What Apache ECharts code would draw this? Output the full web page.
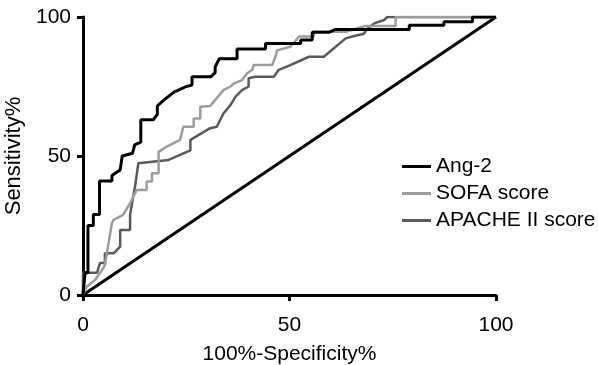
<!DOCTYPE html>
<html>
<head>
<meta charset="utf-8">
<script src="https://cdn.jsdelivr.net/npm/echarts@6/dist/echarts.min.js"></script>
<style>
  html, body { margin: 0; padding: 0; background: #fff; }
  #chart { width: 598px; height: 365px; }
</style>
</head>
<body>
<div id="chart"></div>
<script>
// ROC curves, [100%-Specificity%, Sensitivity%]
const seriesNames = ['Ang-2', 'SOFA score', 'APACHE II score'];
const seriesColors = ['#000000', '#9c9c9c', '#5a5a5a'];

const ang2 = [
    [0, 0], [0.5, 8], [1.2, 8], [1.2, 25], [2.5, 25], [2.5, 29], [4, 29], [4, 41],
    [7, 41], [7, 43], [9, 45], [9.5, 50], [12, 51], [12.5, 54], [14, 55], [14, 63],
    [17, 63], [18, 65], [18, 68], [19.5, 70], [22, 73], [23.5, 74], [25, 75], [26.4, 75.5],
    [26.4, 78.5], [31, 78.5], [32, 80], [32, 82], [33, 85], [37.3, 85], [37.3, 88.5],
    [44.2, 88.5], [44.2, 90.5], [52.7, 90.5], [52.7, 91.7], [55.5, 91.7], [55.5, 94.5],
    [59.5, 94.5], [61, 95.5], [79, 95.5], [79, 97], [87.4, 97], [87.4, 98.3], [94.3, 98.3],
    [94.3, 100], [100, 100]
];

const sofa = [
    [0, 0], [0.9, 3], [2.9, 5.4], [4.9, 9.6], [5.3, 10.8], [7, 25.8], [7.4, 27], [9.7, 28.8],
    [11.4, 33], [13, 37.8], [15.4, 37.8], [15.4, 40.8], [16.7, 40.8], [16.7, 43.8], [18.3, 43.8],
    [18.3, 51.5], [20.3, 53.4], [21.1, 54], [23.5, 55.8], [24.3, 60.5], [26.8, 60.5], [26.8, 63.5],
    [28.4, 63.5], [28.4, 67.7], [30.8, 68], [31.2, 68.3], [34, 73.7], [35.7, 75], [36.5, 76],
    [38.5, 77.3], [39.7, 79.7], [41, 81], [41.3, 82.7], [45.8, 82.7], [46.6, 85.7], [47, 88],
    [50.2, 89.3], [52.3, 93], [55.9, 93], [55.9, 94.7], [63.6, 94.7], [68.4, 96.8], [75.7, 96.8],
    [75.7, 100], [100, 100]
];

const apache = [
    [0, 0], [0, 8], [3.4, 8], [4.1, 11.5], [5.3, 11.5], [5.3, 15], [7.4, 15], [9, 17.4],
    [9, 23.4], [11.4, 23.4], [11.4, 29], [12.6, 39], [13.4, 47.4], [20.7, 48.6], [26, 52],
    [26, 55.8], [30.8, 60], [32.4, 60.5], [32.8, 60], [34, 65.3], [35.7, 68.3], [36.9, 71.3],
    [38.5, 73.7], [40.1, 75], [40.1, 78], [41.7, 78.5], [46.2, 78.5], [47.4, 81], [50.2, 82.7],
    [54.7, 85.7], [58.3, 85.7], [63.6, 92.3], [65.2, 93], [68, 94], [68.9, 95.9], [70.5, 97.7],
    [72.9, 98.9], [73.7, 100], [100, 100]
];

const chanceLine = [[0, 0], [100, 100]];

const xMin = 0, xMax = 100, xStep = 50;
const yMin = 0, yMax = 100, yStep = 50;

const chart = echarts.init(document.getElementById('chart'), null, {renderer: 'canvas'});

const font = '"Liberation Sans", Arial, Helvetica, sans-serif';

const axisCommon = {
    type: 'value',
    nameLocation: 'middle',
    nameTextStyle: {color: '#000', fontSize: 21, fontFamily: font},
    axisLine: {show: true, onZero: false, lineStyle: {color: '#000', width: 3}},
    axisTick: {show: true, inside: false, length: 6, lineStyle: {color: '#000', width: 3}},
    axisLabel: {color: '#000', fontSize: 21, fontFamily: font},
    splitLine: {show: false}
};

const curve = (name, data, color, width, z) => ({
    name: name,
    type: 'line',
    data: data,
    showSymbol: false,
    symbol: 'none',
    smooth: false,
    z: z,
    lineStyle: {color: color, width: width},
    itemStyle: {color: color},
    emphasis: {disabled: true}
});

const option = {
    animation: false,
    backgroundColor: '#fff',
    grid: {left: 83, right: 102, top: 17, bottom: 70, containLabel: false, outerBoundsMode: 'none'},
    xAxis: Object.assign({}, axisCommon, {
        min: xMin, max: xMax, interval: xStep,
        name: '100%-Specificity%',
        nameGap: 49,
        axisLabel: Object.assign({}, axisCommon.axisLabel, {margin: 20})
    }),
    yAxis: Object.assign({}, axisCommon, {
        min: yMin, max: yMax, interval: yStep,
        name: 'Sensitivity%',
        nameGap: 50,
        nameTextStyle: {color: '#000', fontSize: 22, fontFamily: font},
        axisLabel: Object.assign({}, axisCommon.axisLabel, {margin: 12})
    }),
    legend: {
        orient: 'vertical',
        left: 397,
        top: 151,
        itemWidth: 29,
        itemHeight: 3,
        itemGap: 6,
        icon: 'rect',
        data: seriesNames,
        textStyle: {color: '#000', fontSize: 21, fontFamily: font, padding: [0, 0, 0, 0]}
    },
    series: [
        {
            type: 'line',
            data: chanceLine,
            showSymbol: false,
            symbol: 'none',
            z: 1,
            lineStyle: {color: '#000', width: 3},
            emphasis: {disabled: true}
        },
        curve(seriesNames[2], apache, seriesColors[2], 2.5, 2),
        curve(seriesNames[1], sofa, seriesColors[1], 2.5, 3),
        curve(seriesNames[0], ang2, seriesColors[0], 3, 4)
    ]
};

chart.setOption(option);
</script>
</body>
</html>
